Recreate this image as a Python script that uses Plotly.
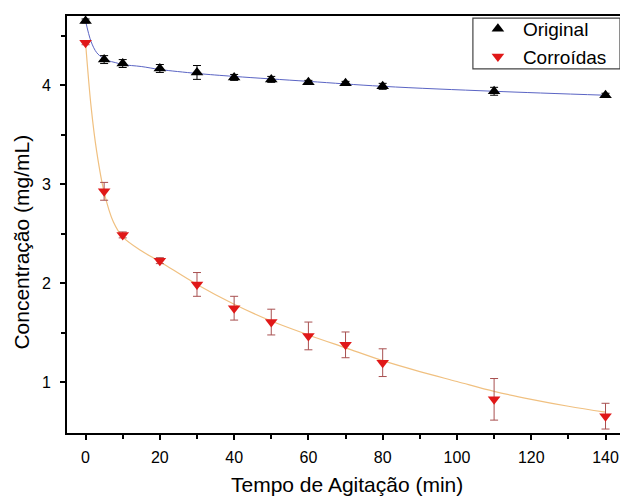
import plotly.graph_objects as go

# Measured data
tempo = [0, 5, 10, 20, 30, 40, 50, 60, 70, 80, 110, 140]
original = [4.65, 4.26, 4.22, 4.17, 4.13, 4.08, 4.06, 4.03, 4.02, 3.99, 3.94, 3.90]
original_err = [0.02, 0.04, 0.04, 0.04, 0.07, 0.03, 0.03, 0.02, 0.02, 0.03, 0.04, 0.02]
corroidas = [4.43, 2.93, 2.49, 2.23, 1.99, 1.75, 1.61, 1.47, 1.38, 1.20, 0.83, 0.66]
corroidas_err = [0.02, 0.09, 0.03, 0.03, 0.12, 0.12, 0.13, 0.14, 0.13, 0.14, 0.21, 0.13]

# Fit curves
fit_orig_x = [0, 1.5, 3, 4.5, 6, 8, 10, 15, 20, 30, 40, 60, 80, 110, 140]
fit_orig_y = [4.65, 4.44, 4.33, 4.28, 4.25, 4.23, 4.21, 4.19, 4.16, 4.12, 4.09, 4.04, 3.99, 3.94, 3.90]
fit_corr_x = [0, 1.5, 3, 5, 7.5, 10, 15, 20, 30, 40, 50, 60, 70, 80, 90, 100, 110, 120, 130, 140]
fit_corr_y = [4.43, 3.78, 3.33, 2.92, 2.62, 2.47, 2.33, 2.22, 1.99, 1.79, 1.62, 1.48, 1.35, 1.22, 1.11, 1.01, 0.91, 0.83, 0.76, 0.70]

x_title = "Tempo de Agitação (min)"
y_title = "Concentração (mg/mL)"
FONT = "Liberation Sans, Arial"

fig = go.Figure()
fig.add_trace(go.Scatter(x=fit_orig_x, y=fit_orig_y, mode="lines", line=dict(color="#5a64c4", width=1, shape="spline"),
                         showlegend=False, hoverinfo="skip"))
fig.add_trace(go.Scatter(x=fit_corr_x, y=fit_corr_y, mode="lines", line=dict(color="#f0c080", width=1.2, shape="spline"),
                         showlegend=False, hoverinfo="skip"))
fig.add_trace(go.Scatter(x=tempo, y=original, mode="markers", name="Original",
                         marker=dict(symbol="triangle-up", size=11, color="black"),
                         error_y=dict(type="data", array=original_err, color="black", thickness=1, width=4)))
fig.add_trace(go.Scatter(x=tempo, y=corroidas, mode="markers", name="Corroídas",
                         marker=dict(symbol="triangle-down", size=11, color="#e01818"),
                         error_y=dict(type="data", array=corroidas_err, color="#a85050", thickness=1, width=4)))

axis_common = dict(showline=True, linecolor="black", linewidth=2, mirror=True, ticks="outside",
                   ticklen=5, tickwidth=1.5, tickcolor="black", showgrid=False, zeroline=False,
                   automargin=False,
                   tickfont=dict(family=FONT, size=16, color="black"))

fig.update_layout(
    width=620, height=498,
    margin=dict(l=67, r=0, t=16, b=65, autoexpand=False),
    plot_bgcolor="white", paper_bgcolor="white",
    xaxis=dict(range=[-5, 143.9], tickvals=[0, 20, 40, 60, 80, 100, 120, 140],
               minor=dict(tickvals=[10, 30, 50, 70, 90, 110, 130], ticks="outside", ticklen=4, tickcolor="black", tickwidth=1.5),
               ticklabelstandoff=4,
               **axis_common),
    yaxis=dict(range=[0.49, 4.70], tickvals=[1, 2, 3, 4],
               minor=dict(tickvals=[1.5, 2.5, 3.5, 4.5], ticks="outside", ticklen=4, tickcolor="black", tickwidth=1.5),
               ticklabelstandoff=6,
               **axis_common),
    legend=dict(x=0.734, y=1.0144, xanchor="left", yanchor="top", borderwidth=0,
                bgcolor="rgba(0,0,0,0)", font=dict(family=FONT, size=19, color="black"),
                tracegroupgap=0, itemwidth=40),
    showlegend=True,
    shapes=[
        dict(type="rect", xref="paper", yref="paper", x0=0.734, x1=1.0, y0=0.873, y1=0.995,
             line=dict(color="#444", width=1.2), fillcolor="white", layer="above"),
    ],
    annotations=[
        dict(text=x_title, xref="paper", yref="paper", x=0.507, y=-0.1247, xanchor="center", yanchor="middle",
             showarrow=False, font=dict(family=FONT, size=21, color="black")),
        dict(text=y_title, xref="paper", yref="paper", x=-0.0814, y=0.459, xanchor="center", yanchor="middle",
             textangle=-90, showarrow=False, font=dict(family=FONT, size=21, color="black")),
    ],
)

fig.write_html("out.html", config={"displayModeBar": False},
               post_script="document.body.style.margin='0';document.body.style.overflow='hidden';")
